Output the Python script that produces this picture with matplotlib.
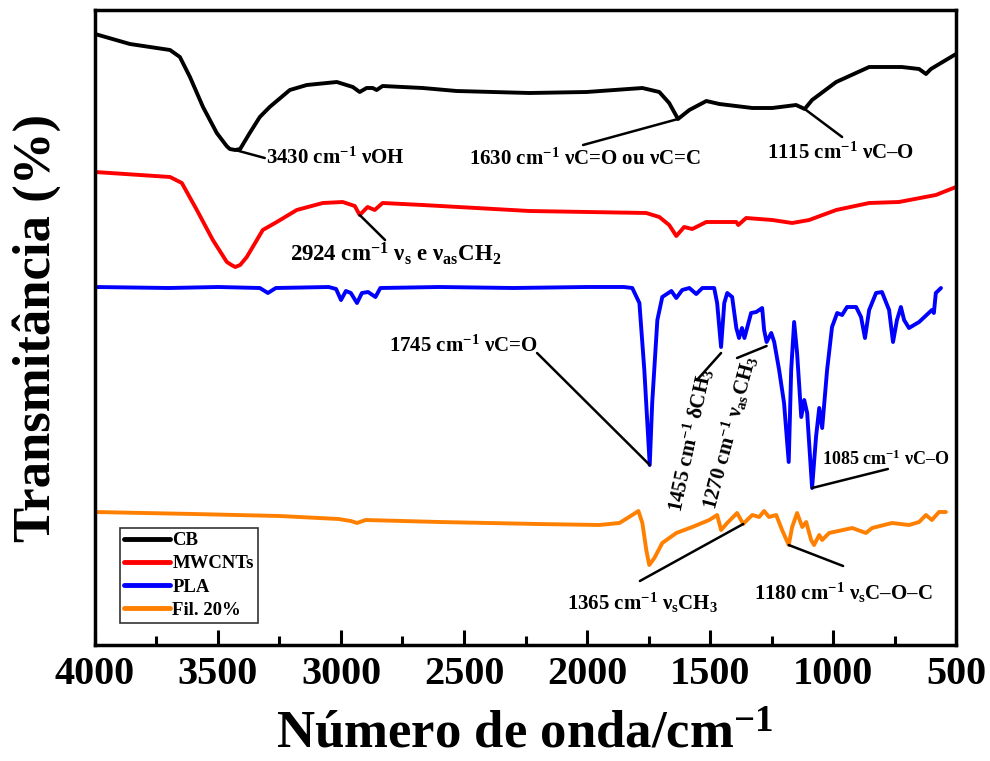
import matplotlib
matplotlib.use("Agg")
import matplotlib.pyplot as plt
from matplotlib.ticker import MultipleLocator

plt.rcParams['font.family'] = ['Liberation Serif', 'DejaVu Serif']
plt.rcParams['font.weight'] = 'bold'
plt.rcParams['mathtext.fontset'] = 'custom'
plt.rcParams['mathtext.rm'] = 'Liberation Serif:bold'
plt.rcParams['mathtext.it'] = 'Liberation Serif:bold'
plt.rcParams['mathtext.bf'] = 'Liberation Serif:bold'
plt.rcParams['mathtext.default'] = 'regular'

# FTIR spectra (wavenumber in cm^-1, transmittance with vertical offsets)
cb_wn = [4000, 3858, 3695, 3655, 3614, 3561, 3505, 3465, 3452, 3430,
         3410, 3371, 3330, 3290, 3208, 3139, 3017, 2952, 2924, 2896,
         2871, 2855, 2831, 2668, 2530, 2234, 2002, 1775, 1706, 1666,
         1630, 1584, 1515, 1462, 1328, 1247, 1150, 1115, 1085, 987,
         853, 720, 650, 622, 602, 500]
cb_t = [609, 599, 593, 586, 566, 536, 510, 497, 494, 493,
        494, 510, 526, 536, 553, 558, 561, 556, 551, 555,
        555, 553, 557, 555, 552, 550, 551, 555, 551, 540,
        524, 533, 542, 539, 535, 535, 538, 534, 543, 561,
        576, 576, 574, 569, 574, 589]

mw_wn = [4000, 3695, 3647, 3586, 3521, 3464, 3445, 3430, 3410, 3383,
         3318, 3261, 3180, 3074, 2993, 2944, 2924, 2892, 2863, 2831,
         2668, 2234, 1759, 1706, 1666, 1637, 1605, 1572, 1515, 1462,
         1393, 1385, 1353, 1247, 1166, 1097, 987, 853, 732, 582, 500]
mw_t = [471, 466, 460, 433, 403, 381, 378, 376, 378, 386,
        413, 421, 433, 440, 441, 437, 428, 436, 433, 440,
        438, 432, 430, 426, 418, 407, 416, 414, 421, 421,
        421, 418, 425, 423, 420, 423, 433, 440, 441, 448, 456]

pla_wn = [4000, 3700, 3500, 3330, 3297, 3265, 3050, 3020, 3000, 2980,
          2960, 2935, 2915, 2890, 2860, 2840, 2600, 2300, 2000, 1850,
          1816, 1787, 1767, 1745, 1735, 1714, 1694, 1657, 1637, 1613,
          1584, 1556, 1531, 1483, 1471, 1455, 1442, 1430, 1410, 1393,
          1382, 1370, 1360, 1333, 1312, 1300, 1288, 1280, 1270, 1251,
          1239, 1219, 1199, 1180, 1170, 1158, 1146, 1129, 1117, 1105,
          1085, 1069, 1056, 1044, 1024, 1004, 983, 963, 943, 906,
          886, 870, 853, 825, 801, 772, 756, 740, 724, 711,
          691, 650, 598, 590, 582, 561]
pla_t = [356, 355, 356, 355, 350, 355, 356, 354, 343, 352,
         350, 340, 350, 351, 346, 355, 356, 355, 356, 356,
         355, 340, 273, 178, 240, 323, 346, 352, 345, 353,
         355, 349, 355, 355, 340, 296, 340, 350, 346, 315,
         305, 315, 305, 330, 331, 333, 335, 313, 301, 310,
         301, 273, 240, 181, 273, 321, 290, 226, 243, 230,
         155, 206, 235, 215, 273, 316, 330, 328, 336, 336,
         326, 305, 333, 350, 351, 333, 301, 323, 336, 323,
         315, 321, 333, 330, 350, 355]

fil_wn = [4000, 3600, 3250, 3010, 2960, 2935, 2900, 2600, 2200, 1950,
          1868, 1816, 1791, 1775, 1759, 1747, 1726, 1694, 1637, 1572,
          1503, 1471, 1455, 1430, 1390, 1365, 1345, 1328, 1300, 1280,
          1260, 1231, 1207, 1180, 1166, 1146, 1125, 1109, 1089, 1077,
          1056, 1044, 1016, 922, 866, 841, 760, 691, 650, 622,
          598, 569, 541]
fil_t = [131, 129, 127, 124, 122, 120, 123, 121, 119, 118,
         120, 128, 132, 120, 93, 78, 85, 100, 110, 116,
         123, 128, 113, 120, 130, 119, 124, 128, 126, 132,
         126, 128, 113, 98, 116, 130, 116, 121, 103, 98,
         108, 103, 110, 115, 110, 115, 120, 118, 121, 128,
         123, 131, 131]

series = [
    ("CB", cb_wn, cb_t, "#000000"),
    ("MWCNTs", mw_wn, mw_t, "#ff0000"),
    ("PLA", pla_wn, pla_t, "#0000ff"),
    ("Fil. 20%", fil_wn, fil_t, "#ff8000"),
]

# Band assignments: label, band position, leader end, text position, alignment, rotation, size
bands = [
    ("3430 cm$^{-1}$ νOH", (3430, 493), (3310, 485), (3305, 485), 'left', 0, 15),
    ("1630 cm$^{-1}$ νC=O ou νC=C", (1630, 524), (2016, 498), (2009, 484), 'center', 0, 15),
    ("1115 cm$^{-1}$ νC–O", (1115, 534), (963, 506), (971, 490), 'center', 0, 15),
    ("2924 cm$^{-1}$ ν$_{s}$ e ν$_{as}$CH$_{2}$", (2924, 428), (2821, 403), (2776, 389), 'center', 0, 16.5),
    ("1745 cm$^{-1}$ νC=O", (1745, 178), (2203, 290), (2504, 297), 'center', 0, 15),
    ("1455 cm$^{-1}$ δCH$_{3}$", (1455, 290), (1553, 263), (1581, 203), 'center', 78, 15),
    ("1270 cm$^{-1}$ ν$_{as}$CH$_{3}$", (1270, 297), (1390, 285), (1419, 211), 'center', 75, 15),
    ("1085 cm$^{-1}$ νC–O", (1085, 155), (777, 174), (785, 184), 'center', 0, 13),
    ("1365 cm$^{-1}$ ν$_{s}$CH$_{3}$", (1365, 119), (1785, 62), (1776, 40), 'center', 0, 15),
    ("1180 cm$^{-1}$ ν$_{s}$C–O–C", (1180, 98), (959, 77), (960, 50), 'center', 0, 15),
]

fig = plt.figure(figsize=(9.9, 7.61), dpi=100)
ax = fig.add_axes([95 / 990, 1 - 645 / 761, 861 / 990, 635 / 761])

for name, wn, t, color in series:
    ax.plot(wn, t, color=color, lw=2.8, label=name,
            solid_joinstyle='round', solid_capstyle='round')

for text, xy, end, tpos, ha, rot, size in bands:
    ax.annotate("", xy=xy, xytext=end,
                arrowprops=dict(arrowstyle='-', color='black', lw=1.8,
                                shrinkA=0, shrinkB=0))
    ax.text(tpos[0], tpos[1], text, fontsize=size, fontweight='bold',
            ha=ha, va='center', rotation=rot)

ax.set_xlim(4000, 500)
ax.set_ylim(-2, 633)
ax.xaxis.set_major_locator(MultipleLocator(500))
ax.xaxis.set_minor_locator(MultipleLocator(250))
ax.set_yticks([])
ax.tick_params(axis='x', which='major', direction='in', length=11, width=2.2,
               labelsize=29, pad=8, top=False)
ax.tick_params(axis='x', which='minor', direction='in', length=6.5, width=2.2, top=False)
for lab in ax.get_xticklabels():
    lab.set_fontweight('bold')
for sp in ax.spines.values():
    sp.set_linewidth(2.5)

ax.set_xlabel("Número de onda/cm$^{-1}$", fontsize=38, fontweight='bold')
ax.xaxis.label.set_va('center')
ax.xaxis.set_label_coords(0.4995, -0.142)
ax.set_ylabel("Transmitância (%)", fontsize=38, fontweight='bold')
ax.yaxis.label.set_va('center')
ax.yaxis.set_label_coords(-0.068, 0.5)

leg = ax.legend(loc='lower left', bbox_to_anchor=(0.029, 0.035), borderaxespad=0,
                frameon=True, fancybox=False, edgecolor='black',
                handlelength=2.45, handletextpad=0.15, labelspacing=0.33,
                borderpad=0.2, prop={'weight': 'bold', 'size': 13.5})
leg.get_frame().set_linewidth(1.2)
for line in leg.get_lines():
    line.set_linewidth(3.5)

fig.savefig("out.png", dpi=100)
